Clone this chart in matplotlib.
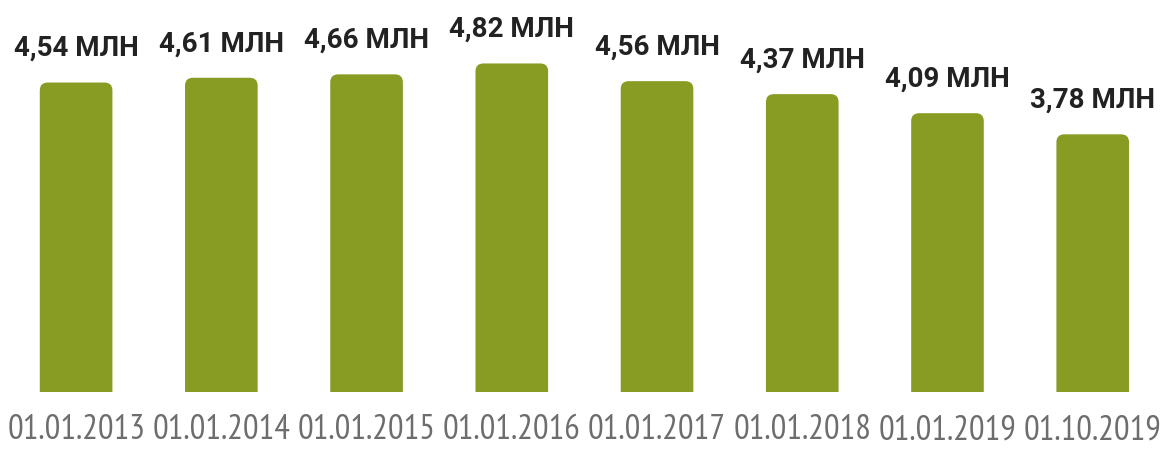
import matplotlib.pyplot as plt
from matplotlib.patches import FancyBboxPatch
import numpy as np

# data
dates = ['01.01.2013', '01.01.2014', '01.01.2015', '01.01.2016',
         '01.01.2017', '01.01.2018', '01.01.2019', '01.10.2019']
values = [4.54, 4.61, 4.66, 4.82, 4.56, 4.37, 4.09, 3.78]
labels = ['4,54 МЛН', '4,61 МЛН', '4,66 МЛН', '4,82 МЛН',
          '4,56 МЛН', '4,37 МЛН', '4,09 МЛН', '3,78 МЛН']

plt.rcParams['font.family'] = ['Roboto Condensed', 'DejaVu Sans']

fig = plt.figure(figsize=(11.63, 4.5), dpi=100, facecolor='w')
ax = fig.add_axes([0.003, 0.129, 0.999, 0.833])

x = np.arange(len(values))
bars = ax.bar(x, values, width=0.5, color='#889b22')

# rounded top corners
for rect in bars:
    rect.set_visible(False)
    p = FancyBboxPatch((rect.get_x(), -0.3), rect.get_width(), rect.get_height() + 0.3,
                       boxstyle='round,pad=0,rounding_size=0.055', mutation_aspect=2.1,
                       fc='#889b22', ec='none')
    ax.add_patch(p)

for xi, v, lab in zip(x, values, labels):
    ax.annotate(lab, (xi, v), xytext=(0, 19), textcoords='offset points',
                ha='center', va='baseline', fontsize=20, fontweight='bold', color='#222222',
                family=['Roboto', 'DejaVu Sans'])

ax.set_xlim(-0.5, len(values) - 0.5)
ax.set_ylim(0, 5.5)
ax.set_xticks(x)
ax.set_xticklabels(dates, fontsize=25, color='#6d6d6d',
                   family=['PT Sans Narrow', 'Roboto Condensed', 'DejaVu Sans'])
ax.tick_params(axis='x', length=0, pad=16)
ax.set_yticks([])
for s in ax.spines.values():
    s.set_visible(False)

plt.savefig('out.png', dpi=100, facecolor='w')
